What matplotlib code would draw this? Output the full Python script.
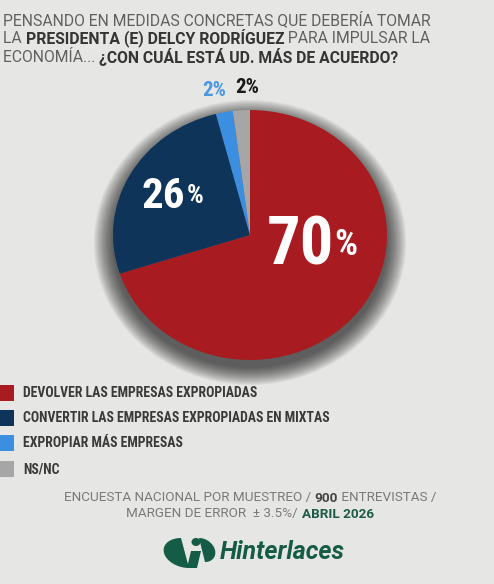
import matplotlib
matplotlib.use("Agg")
import numpy as np
import matplotlib.pyplot as plt
from matplotlib.patches import Ellipse, Rectangle, Polygon

# data
labels = ["DEVOLVER LAS EMPRESAS EXPROPIADAS",
          "CONVERTIR LAS EMPRESAS EXPROPIADAS EN MIXTAS",
          "EXPROPIAR MÁS EMPRESAS",
          "NS/NC"]
values = [70, 26, 2, 2]
colors = ["#a81c21", "#0e3559", "#3b8ee0", "#a6a6a6"]

title_lines = [
    [("PENSANDO EN MEDIDAS CONCRETAS QUE DEBERÍA TOMAR", False)],
    [("LA ", False), ("PRESIDENTA (E) DELCY RODRÍGUEZ", True), (" PARA IMPULSAR LA", False)],
    [("ECONOMÍA... ", False), ("¿CON CUÁL ESTÁ UD. MÁS DE ACUERDO?", True)],
]
footer_lines = [
    [("ENCUESTA NACIONAL POR MUESTREO / ", False, "#7a7a7a"), ("900", True, "#444444"),
     (" ENTREVISTAS /", False, "#7a7a7a")],
    [("MARGEN DE ERROR  ± 3.5%/ ", False, "#7a7a7a"), ("ABRIL 2026", True, "#1d5b48")],
]

W, H = 494, 584
bg = "#e6e7e4"
fig = plt.figure(figsize=(W / 100, H / 100), dpi=100, facecolor=bg)
renderer = fig.canvas.get_renderer()
narrow = dict(family=["Roboto Condensed", "DejaVu Sans"], fontstretch="condensed")


def fx(x):
    return x / W


def fy(y):
    return 1 - y / H


def runs(parts, x, y, size, align="left"):
    # draw text pieces one after the other on one line
    txts = []
    for p in parts:
        s, bold, col = p if len(p) == 3 else (p[0], p[1], None)
        t = fig.text(0, fy(y), s, fontsize=size, fontweight="bold" if bold else "normal",
                     color=col or ("#353535" if bold else "#606060"), va="center", ha="left",
                     family=["Roboto", "DejaVu Sans"])
        txts.append(t)
    widths = [t.get_window_extent(renderer).width for t in txts]
    total = sum(widths)
    cx = x if align == "left" else x - total / 2
    for t, w in zip(txts, widths):
        t.set_x(fx(cx))
        cx += w


# title
for i, line in enumerate(title_lines):
    runs(line, 3, 20 + i * 18.5, 11.3)

# pie with shadow
cx, cy, rx, ry = 250, 235, 137, 125
m = 1.4
ax = fig.add_axes([fx(cx - rx * m), fy(cy + ry * m), 2 * rx * m / W, 2 * ry * m / H])
ax.set_facecolor("none")
for k in range(16):
    r = 1.14 - k * 0.009
    ax.add_patch(Ellipse((0.0, -0.06), 2 * r, 2 * r, color="black", alpha=0.05, lw=0))
wedges, _ = ax.pie(values, colors=colors, startangle=90, counterclock=False, radius=1.0,
                   wedgeprops=dict(linewidth=0))
ax.set_aspect("auto")
ax.set_xlim(-m, m)
ax.set_ylim(-m, m)
ax.axis("off")

# value labels
ax.text(0.37, -0.09, "70", fontsize=48, fontweight="bold", color="white", ha="center",
        va="center", **narrow)
ax.text(0.70, -0.08, "%", fontsize=26, fontweight="bold", color="white", ha="center",
        va="center", **narrow)
ax.text(-0.63, 0.31, "26", fontsize=31, fontweight="bold", color="white", ha="center",
        va="center", **narrow)
ax.text(-0.40, 0.31, "%", fontsize=19, fontweight="bold", color="white", ha="center",
        va="center", **narrow)
ax.text(-0.26, 1.16, "2%", fontsize=15, fontweight="bold", color="#4a98e4", ha="center",
        va="center", **narrow)
ax.text(-0.02, 1.18, "2%", fontsize=15, fontweight="bold", color="#1a1a1a", ha="center",
        va="center", **narrow)

# legend
ys = [393, 418, 443, 469]
for lab, col, y in zip(labels, colors, ys):
    fig.patches.append(Rectangle((0, fy(y + 8)), fx(14), 16 / H, transform=fig.transFigure,
                                 facecolor=col, edgecolor="none"))
    fig.text(fx(23), fy(y), lab, fontsize=9.9, fontweight="bold", color="#3a3a3a",
             va="center", ha="left", **narrow)

# footer
runs(footer_lines[0], 250, 498, 9.7, align="center")
runs(footer_lines[1], 250, 514, 9.7, align="center")

# logo
green = "#155c46"
lg = fig.add_axes([0, 0, 1, 1])
lg.set_xlim(0, W)
lg.set_ylim(H, 0)
lg.axis("off")
t = np.linspace(np.pi / 2, 3 * np.pi / 2, 40)
left = np.c_[185 + 21 * np.cos(t) - 4 * np.sin(t), 553 - 15 * np.sin(t)]
lg.add_patch(Polygon(left, facecolor=green, edgecolor="none"))
lg.add_patch(Ellipse((196, 542), 9, 8, facecolor=green, edgecolor="none"))
lg.add_patch(Polygon([[191, 551], [201, 551], [197, 568], [187, 568]], facecolor=green,
                     edgecolor="none"))
t2 = np.linspace(-np.pi / 2, np.pi / 2, 40)
right = np.c_[202 + 13 * np.cos(t2) - 3 * np.sin(t2), 550 - 12 * np.sin(t2)]
lg.add_patch(Polygon(right, facecolor=green, edgecolor="none"))
lg.text(220, 552, "Hinterlaces", fontsize=18, fontweight="bold", fontstyle="italic",
        color=green, va="center", ha="left", family=["Roboto", "DejaVu Sans"])

fig.savefig("out.png", dpi=100, facecolor=bg)
